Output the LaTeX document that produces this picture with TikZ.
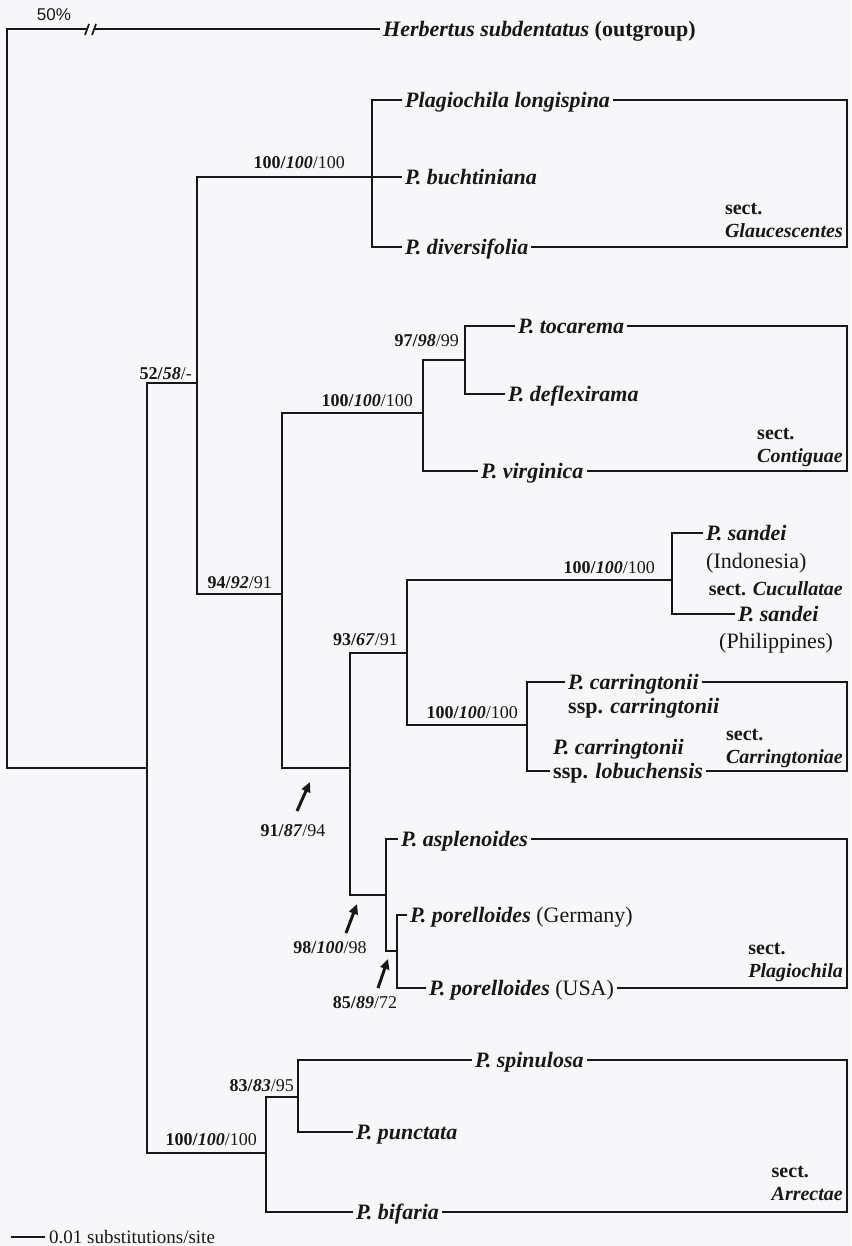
\documentclass[tikz,border=0pt]{standalone}
\usepackage{fontspec}
\setmainfont{Liberation Serif}
\newfontfamily\sansf{Liberation Sans}
\usetikzlibrary{arrows.meta}
\newcommand\bsv[3]{\textbf{#1/}\textbf{\textit{#2}}/#3}
\definecolor{paper}{RGB}{247,247,249}
\definecolor{ink}{RGB}{25,22,24}
\begin{document}
\begin{tikzpicture}[x=1pt,y=-1pt, color=ink,
  br/.style={line width=2.7pt, line join=miter},
  secline/.style={line width=1.4pt},
  leaf/.style={anchor=west, inner sep=3pt, text height=15pt, text depth=0pt,
    font=\fontsize{22}{25}\selectfont\bfseries\itshape},
  plain/.style={anchor=west, inner sep=3pt, text height=15pt, text depth=0pt,
    font=\fontsize{22}{25}\selectfont},
  bsl/.style={anchor=base east, inner sep=0pt, font=\fontsize{18}{21}\selectfont},
  albl/.style={anchor=base, inner sep=0pt, font=\fontsize{18}{21}\selectfont},
  seclab/.style={anchor=east, align=left, inner sep=1pt, font=\fontsize{20}{23}\selectfont\bfseries},
  arr/.style={line width=3pt, -{Triangle[length=10pt,width=9pt]}}]
\useasboundingbox (0,0) rectangle (851,1246);
\fill[paper] (0,0) rectangle (851,1246);

% internal nodes
\coordinate (R) at (7,400);
\coordinate (I) at (147,768);
\coordinate (A) at (197,383);
\coordinate (Gl) at (372,177);
\coordinate (B) at (282,594);
\coordinate (C) at (423,413);
\coordinate (D) at (465,360);
\coordinate (E) at (350,768);
\coordinate (F) at (407,653);
\coordinate (G) at (672,580);
\coordinate (H) at (527,725);
\coordinate (P) at (386,895);
\coordinate (Q) at (397,951);
\coordinate (Ar) at (266,1153);
\coordinate (S) at (298,1097);

% leaves
\node[leaf] (herb) at (380,29) {Herbertus subdentatus {\upshape(outgroup)}};
\node[leaf] (longi) at (402,100) {Plagiochila longispina};
\node[leaf] (buch) at (402,177) {P. buchtiniana};
\node[leaf] (divers) at (402,247) {P. diversifolia};
\node[leaf] (toc) at (515,326) {P. tocarema};
\node[leaf] (defl) at (505,394) {P. deflexirama};
\node[leaf] (virg) at (478,471) {P. virginica};
\node[leaf] (sandI) at (703,533) {P. sandei};
\node[plain] (sandIb) at (703,561) {(Indonesia)};
\node[leaf] (sandP) at (735,614) {P. sandei};
\node[plain] (sandPb) at (716,641) {(Philippines)};
\node[leaf] (carr1) at (565,682) {P. carringtonii};
\node[leaf] (carr1b) at (565,706) {{\upshape ssp.} carringtonii};
\node[leaf] (carr2a) at (550,747) {P. carringtonii};
\node[leaf] (carr2) at (550,771) {{\upshape ssp.} lobuchensis};
\node[leaf] (aspl) at (398,839) {P. asplenoides};
\node[leaf] (germ) at (407,915) {P. porelloides {\mdseries\upshape(Germany)}};
\node[leaf] (usa) at (426,988) {P. porelloides {\mdseries\upshape(USA)}};
\node[leaf] (spin) at (472,1060) {P. spinulosa};
\node[leaf] (punct) at (353,1132) {P. punctata};
\node[leaf] (bif) at (353,1212) {P. bifaria};

% tree branches
\draw[br] (herb.west) -| (R) |- (I);
\draw[br] (A) -| (I) |- (Ar);
\draw[br] (Gl) -| (A) |- (B);
\draw[br] (longi.west) -| (Gl) |- (divers.west);
\draw[br] (Gl) -- (buch.west);
\draw[br] (C) -| (B) |- (E);
\draw[br] (D) -| (C) |- (virg.west);
\draw[br] (toc.west) -| (D) |- (defl.west);
\draw[br] (F) -| (E) |- (P);
\draw[br] (G) -| (F) |- (H);
\draw[br] (sandI.west) -| (G) |- (sandP.west);
\draw[br] (carr1.west) -| (H) |- (carr2.west);
\draw[br] (aspl.west) -| (P) |- (Q);
\draw[br] (germ.west) -| (Q) |- (usa.west);
\draw[br] (S) -| (Ar) |- (bif.west);
\draw[br] (spin.west) -| (S) |- (punct.west);

% break on outgroup branch
\fill[paper] (88,20) rectangle (95,38);
\draw[line width=1.7pt] (85,35) -- (89,24) (92,35) -- (96,24);
\node[font=\sansf\fontsize{17}{19}\selectfont, inner sep=0pt] (pct) at (54,15) {50\%};

% section brackets
\coordinate (GlBr) at (847,170);
\coordinate (CoBr) at (847,400);
\coordinate (CaBr) at (847,730);
\coordinate (PlBr) at (847,900);
\coordinate (ArBr) at (847,1130);
\draw[secline] (longi.east) -| (GlBr) |- (divers.east);
\draw[secline] (toc.east) -| (CoBr) |- (virg.east);
\draw[secline] (carr1.east) -| (CaBr) |- (carr2.east);
\draw[secline] (aspl.east) -| (PlBr) |- (usa.east);
\draw[secline] (spin.east) -| (ArBr) |- (bif.east);

\node[seclab] (sGl) at (844,220) {sect.\\\textit{Glaucescentes}};
\node[seclab] (sCo) at (844,447) {sect.\\\textit{Contiguae}};
\node[seclab] (sCu) at (844,589) {sect. \textit{Cucullatae}};
\node[seclab] (sCa) at (844,748) {sect.\\\textit{Carringtoniae}};
\node[seclab] (sPl) at (844,962) {sect.\\\textit{Plagiochila}};
\node[seclab] (sAr) at (844,1183) {sect.\\\textit{Arrectae}};

% support values
\node[bsl] (lGl) at (345,169) {\bsv{100}{100}{100}};
\node[bsl] (lA) at (192,379) {\bsv{52}{58}{-}};
\node[bsl] (lC) at (413,406) {\bsv{100}{100}{100}};
\node[bsl] (lD) at (459,346) {\bsv{97}{98}{99}};
\node[bsl] (lB) at (272,588) {\bsv{94}{92}{91}};
\node[bsl] (lF) at (398,645) {\bsv{93}{67}{91}};
\node[bsl] (lG) at (655,573) {\bsv{100}{100}{100}};
\node[bsl] (lH) at (518,718) {\bsv{100}{100}{100}};
\node[bsl] (lAr) at (257,1145) {\bsv{100}{100}{100}};
\node[bsl] (lS) at (294,1091) {\bsv{83}{83}{95}};

% arrows with labels
\coordinate (a1t) at (297,811); \coordinate (a1h) at (310,782);
\coordinate (a2t) at (346,933); \coordinate (a2h) at (357,904);
\coordinate (a3t) at (378,988); \coordinate (a3h) at (388,959);
\draw[arr] (a1t) -- (a1h);
\draw[arr] (a2t) -- (a2h);
\draw[arr] (a3t) -- (a3h);
\node[albl] (l1) at (293,836) {\bsv{91}{87}{94}};
\node[albl] (l2) at (330,953) {\bsv{98}{100}{98}};
\node[albl] (l3) at (365,1008) {\bsv{85}{89}{72}};

% scale bar
\coordinate (sb1) at (11,1237);
\coordinate (sb2) at (45,1237);
\draw[line width=2pt] (sb1) -- (sb2);
\node[anchor=west, inner sep=3pt, font=\fontsize{19}{21}\selectfont] (sbt) at (46,1237) {0.01 substitutions/site};
\end{tikzpicture}
\end{document}
